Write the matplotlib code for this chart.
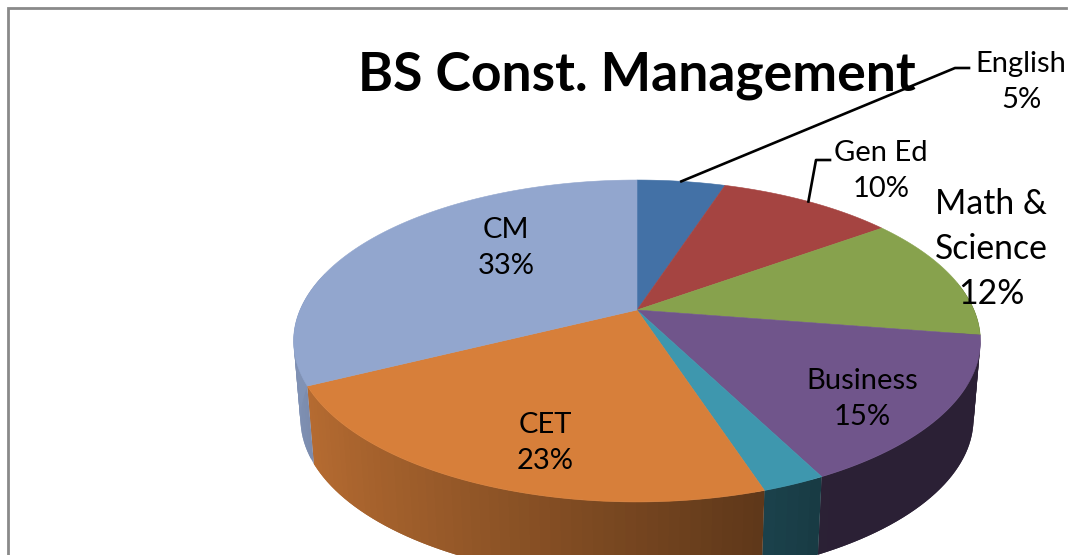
import numpy as np
import matplotlib
matplotlib.use("Agg")
import matplotlib.pyplot as plt

# slices, clockwise from 12 o'clock (sizes read from the slice boundaries)
categories = ["English", "Gen Ed", "Math & Science", "Business", "Other", "CET", "CM"]
values = [5.0, 10.0, 12.5, 15.0, 2.5, 22.6, 32.4]
top_colors = ["#4371A6", "#A54441", "#87A24D", "#70558B", "#3E97AE", "#D77F3A", "#92A6CE"]
pct_labels = ["5%", "10%", "12%", "15%", "", "23%", "33%"]

title_text = "BS Const. Management"

plt.rcParams['font.family'] = ['Lato', 'DejaVu Sans']

# pie geometry in pixels of the reference
CX, CY = 637, 310
RX, RY = 337, 155
PERSP = 0.1925
DEPTH = 78
BOTTOM_SHRINK = 0.98


def project(t, r=1.0):
    """Angle t (radians, clockwise from top) to picture coordinates."""
    sx, cy = np.sin(t) * r, np.cos(t) * r
    d = 1 + PERSP * cy
    return CX + RX * sx / d, CY - RY * cy / d


def side_shade(t):
    # the rim gets darker towards the right
    return np.clip(0.88 - 0.46 * (np.sin(t) + 1) / 1.36, 0.38, 0.88)


fig = plt.figure(figsize=(10.69, 5.55), dpi=100)
ax = fig.add_axes([0, 0, 1, 1])
ax.set_xlim(0, 1069)
ax.set_ylim(555, 0)
ax.axis('off')

# chart frame, only top and left are inside the crop
ax.plot([8, 8, 1066], [555, 8, 8], color="#8A8A8A", lw=2, solid_joinstyle='miter')

edges = np.cumsum([0] + values) / sum(values) * 2 * np.pi

# rim first, the top surface covers what is behind it
for i, color in enumerate(top_colors):
    base = np.array(matplotlib.colors.to_rgb(color))
    steps = max(2, int((edges[i + 1] - edges[i]) / np.radians(1.5)))
    ts = np.linspace(edges[i], edges[i + 1], steps + 1)
    for k in range(steps):
        if np.cos(ts[k]) > 0.2:
            continue
        # each quad runs on under the next one so no seams show
        a, b = ts[k], ts[min(k + 2, steps)]
        xa, ya = project(a)
        xb, yb = project(b)
        xa2 = CX + (xa - CX) * BOTTOM_SHRINK
        xb2 = CX + (xb - CX) * BOTTOM_SHRINK
        c = base * side_shade(ts[k] + (ts[1] - ts[0]) / 2)
        ax.fill([xa, xb, xb2, xa2], [ya, yb, yb + DEPTH, ya + DEPTH],
                color=c, lw=0, zorder=2)

for i, color in enumerate(top_colors):
    ts = np.linspace(edges[i], edges[i + 1], 80)
    xs, ys = project(ts)
    ax.fill(np.r_[CX, xs], np.r_[CY, ys], color=color, lw=0.4, zorder=3)

label_kw = dict(ha='center', va='center', color='black', zorder=5, linespacing=1.5)
ax.text(637, 75, title_text, fontsize=38.5, fontweight='bold', ha='center', va='center', zorder=4)
ax.text(1021, 82, f"{categories[0]}\n{pct_labels[0]}", fontsize=21, **label_kw)
ax.text(881, 171, f"{categories[1]}\n{pct_labels[1]}", fontsize=21, **label_kw)
ax.text(991, 249, f"Math &\nScience\n{pct_labels[2]}", fontsize=24.3, **label_kw)
ax.text(862, 399, f"{categories[3]}\n{pct_labels[3]}", fontsize=21, **label_kw)
ax.text(545, 443, f"{categories[5]}\n{pct_labels[5]}", fontsize=21, **label_kw)
ax.text(506, 248, f"{categories[6]}\n{pct_labels[6]}", fontsize=21, **label_kw)

# leader lines start on the rim of their slice
x0, y0 = project(edges[0] + (edges[1] - edges[0]) * 0.5)
ax.plot([x0, 955, 969], [y0, 68, 68], color='black', lw=1.9, zorder=4)
x1, y1 = project(edges[1] + (edges[2] - edges[1]) * 0.5)
ax.plot([x1, 816, 830], [y1, 160, 160], color='black', lw=1.9, zorder=4)

fig.savefig("out.png", dpi=100)
